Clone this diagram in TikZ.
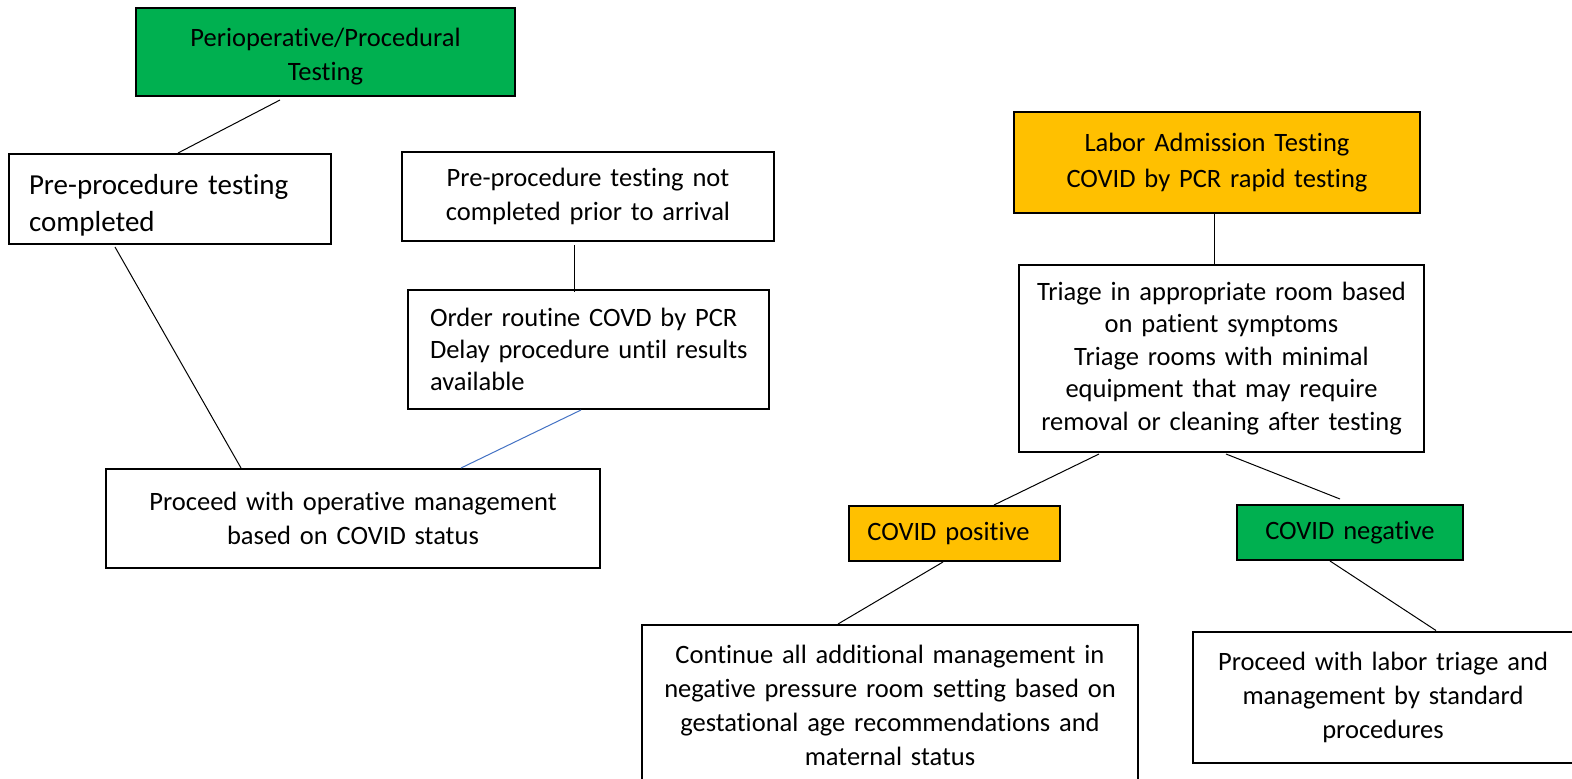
\documentclass[tikz,border=0pt]{standalone}
\usepackage{fontspec}
\setmainfont{Carlito}[Ligatures=NoCommon]
\usetikzlibrary{calc}
\definecolor{bgreen}{HTML}{00B050}
\definecolor{borange}{HTML}{FFC000}
\definecolor{lblue}{HTML}{4472C4}
\begin{document}
\begin{tikzpicture}[x=1pt,y=-1pt,
  box/.style={draw=black, line width=2pt, inner sep=0pt, align=center,
    font=\fontsize{26.5}{32.5}\selectfont},
  wide/.style={font=\fontsize{26.5}{34}\selectfont},
  link/.style={draw=black, line width=1pt},
  bluelink/.style={draw=lblue, line width=1pt},
]
\useasboundingbox (0,0) rectangle (1572,779);
\clip (0,0) rectangle (1572,779);
\fill[white] (0,0) rectangle (1572,779);

% left tree
\node[box, wide, fill=bgreen, minimum width=379pt, minimum height=88pt, text width=379pt]
  (top) at (325.5,52) {\rule{0pt}{27.5pt}Perioperative/Procedural\\Testing};
\node[box, minimum width=322pt, minimum height=90pt, text width=300pt, inner xsep=11pt,
  align=left, font=\fontsize{29}{37}\selectfont]
  (done) at (170,199) {\rule{0pt}{33pt}\hspace*{9pt}Pre-procedure testing\\\hspace*{9pt}completed};
\node[box, minimum width=372pt, minimum height=89pt, text width=372pt, wide]
  (notdone) at (588,196.5) {Pre-procedure testing not\\completed prior to arrival};
\node[box, minimum width=361pt, minimum height=119pt, text width=351pt, inner xsep=5pt,
  align=left, font=\fontsize{26.5}{32}\selectfont]
  (order) at (588.5,349.5) {\hspace*{17pt}Order routine COVD by PCR\\\hspace*{17pt}Delay procedure until results\\\hspace*{17pt}available};
\node[box, wide, minimum width=494pt, minimum height=99pt, text width=494pt]
  (oper) at (353,518.5) {Proceed with operative management\\based on COVID status};

% right tree
\node[box, fill=borange, minimum width=406pt, minimum height=101pt, text width=406pt,
  font=\fontsize{26.5}{36}\selectfont]
  (labor) at (1217,162.5) {Labor Admission Testing\\COVID by PCR rapid testing};
\node[box, minimum width=405pt, minimum height=187pt, text width=405pt]
  (triage) at (1221.5,358.5) {Triage in appropriate room based\\on patient symptoms\\Triage rooms with minimal\\equipment that may require\\removal or cleaning after testing};
\node[box, fill=borange, minimum width=211pt, minimum height=55pt, text width=211pt]
  (pos) at (954.5,533.5) {\hspace*{-12pt}COVID positive};
\node[box, fill=bgreen, minimum width=226pt, minimum height=55pt, text width=226pt]
  (neg) at (1350,532.5) {COVID negative};
\node[box, wide, minimum width=496pt, minimum height=160pt, text width=496pt]
  (cont) at (890,705) {Continue all additional management in\\negative pressure room setting based on\\gestational age recommendations and\\maternal status};
\node[box, wide, minimum width=387pt, minimum height=131pt, text width=387pt]
  (std) at (1386.5,697) {\hspace*{-7pt}Proceed with labor triage and\\\hspace*{-7pt}management by standard\\\hspace*{-7pt}procedures};

% connectors
\draw[link] ([xshift=-45.5pt,yshift=-3pt]top.south) -- ([xshift=8pt]done.north);
\draw[link] ([xshift=-55pt,yshift=-2pt]done.south) -- ([xshift=-112pt]oper.north);
\draw[link] ([xshift=-14pt,yshift=-3pt]notdone.south) -- ([xshift=-14pt,yshift=-3pt]notdone.south |- order.north);
\draw[bluelink] ([xshift=-7.5pt]order.south) -- ([xshift=108pt]oper.north);
\draw[link] ([xshift=-3pt]labor.south) -- ([xshift=-3pt]labor.south |- triage.north);
\draw[link] ([xshift=-122.5pt,yshift=-1pt]triage.south) -- ([xshift=39.5pt]pos.north);
\draw[link] ([xshift=4.5pt,yshift=-1pt]triage.south) -- ([xshift=-10pt,yshift=5pt]neg.north);
\draw[link] ([xshift=-11.5pt]pos.south) -- ([xshift=-52pt]cont.north);
\draw[link] ([xshift=-20pt]neg.south) -- ([xshift=49.5pt]std.north);
\end{tikzpicture}
\end{document}
